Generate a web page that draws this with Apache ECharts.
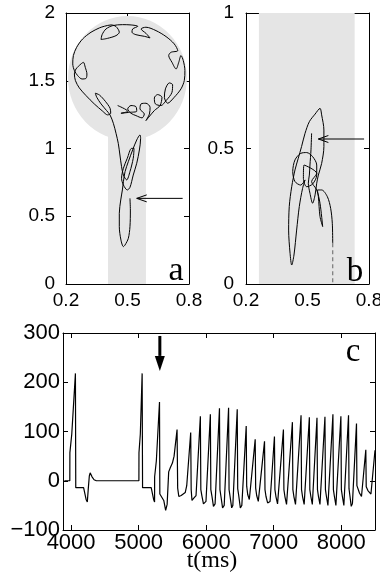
<!DOCTYPE html>
<html>
<head>
<meta charset="utf-8">
<script src="https://cdn.jsdelivr.net/npm/echarts@6/dist/echarts.min.js"></script>
<style>
  html, body { margin: 0; padding: 0; background: #fff; }
  #chart { width: 380px; height: 588px; }
</style>
</head>
<body>
<div id="chart"></div>
<script>
// panel a: phase trajectory, starts at the arrow and ends in the lower curls of the head
const trajA = [
  [0.512,0.632],[0.514,0.546],[0.512,0.423],[0.504,0.337],[0.488,0.288],[0.480,0.276],[0.468,0.325],
  [0.460,0.423],[0.460,0.522],[0.467,0.620],[0.475,0.694],[0.480,0.755],[0.488,0.829],[0.504,0.903],
  [0.525,0.989],[0.545,1.063],[0.561,1.100],[0.564,1.075],[0.558,0.989],[0.545,0.891],[0.528,0.804],
  [0.512,0.713],[0.499,0.694],[0.480,0.731],[0.471,0.780],[0.480,0.854],[0.499,0.928],[0.520,1.001],
  [0.532,1.001],[0.528,0.928],[0.512,0.829],[0.496,0.768],[0.480,0.804],[0.471,0.866],[0.463,0.952],
  [0.455,1.038],[0.444,1.112],[0.431,1.186],[0.415,1.247],
  [0.398,1.280],[0.371,1.329],[0.350,1.378],[0.343,1.408],[0.363,1.395],[0.392,1.348],[0.415,1.297],
  [0.418,1.260],[0.403,1.248],[0.379,1.275],[0.338,1.329],[0.298,1.390],[0.265,1.447],[0.246,1.501],
  [0.241,1.550],[0.249,1.587],[0.273,1.624],[0.285,1.636],[0.294,1.599],[0.302,1.550],[0.298,1.518],
  [0.278,1.513],[0.257,1.538],[0.241,1.575],[0.233,1.624],[0.236,1.686],[0.252,1.747],[0.281,1.808],
  [0.322,1.858],[0.363,1.890],
  [0.387,1.902],[0.420,1.912],[0.444,1.900],[0.460,1.858],[0.444,1.833],[0.403,1.813],[0.371,1.804],
  [0.376,1.840],[0.395,1.882],[0.428,1.907],[0.476,1.914],[0.517,1.912],
  [0.550,1.902],[0.525,1.882],[0.522,1.858],[0.541,1.840],[0.582,1.828],[0.610,1.816],[0.590,1.850],
  [0.566,1.882],[0.590,1.895],[0.639,1.870],[0.688,1.826],[0.728,1.772],
  [0.745,1.722],[0.712,1.710],[0.701,1.686],[0.717,1.636],[0.737,1.587],[0.750,1.636],[0.761,1.686],
  [0.772,1.649],[0.780,1.575],[0.777,1.501],[0.761,1.440],[0.728,1.378],[0.696,1.334],
  [0.680,1.378],[0.685,1.440],[0.704,1.484],[0.720,1.471],[0.717,1.415],[0.688,1.353],[0.663,1.317],
  [0.636,1.329],[0.631,1.373],[0.647,1.398],[0.668,1.378],[0.659,1.317],[0.631,1.280],[0.603,1.230],
  [0.590,1.206],[0.607,1.255],[0.610,1.304],[0.590,1.334],[0.566,1.329],[0.561,1.292],[0.582,1.255],
  [0.571,1.226],[0.541,1.243],[0.517,1.260],[0.501,1.292],[0.517,1.317],[0.541,1.309],[0.545,1.275],
  [0.509,1.267],[0.468,1.260],[0.501,1.275],[0.452,1.317]
];

// panel b: trajectory, then the dashed exit at the bottom
const trajB = [
  [0.520,0.556],[0.517,0.495],[0.512,0.439],[0.509,0.402],[0.504,0.372],[0.512,0.335],[0.525,0.298],
  [0.537,0.329],[0.545,0.372],[0.553,0.402],[0.569,0.445],[0.580,0.507],[0.580,0.568],[0.569,0.624],
  [0.561,0.648],[0.537,0.627],[0.509,0.599],[0.488,0.556],[0.471,0.507],[0.455,0.464],[0.439,0.421],
  [0.423,0.359],[0.411,0.286],[0.408,0.199],[0.415,0.113],[0.423,0.070],[0.434,0.107],[0.447,0.199],
  [0.460,0.286],[0.476,0.353],[0.488,0.384],[0.467,0.365],[0.439,0.378],[0.428,0.415],[0.439,0.458],
  [0.467,0.482],[0.496,0.485],[0.525,0.470],[0.545,0.439],[0.545,0.402],[0.525,0.369],[0.496,0.359],
  [0.480,0.390],[0.483,0.439],[0.545,0.408],[0.520,0.378],[0.545,0.347],[0.561,0.298],[0.574,0.212],
  [0.561,0.249],[0.553,0.322],[0.548,0.347],[0.569,0.347],[0.597,0.322],[0.613,0.279],[0.621,0.224],
  [0.623,0.150]
];
const trajBTail = [[0.623,0.150],[0.623,0.0]];

// panel c: t (ms), membrane trace
const traceC = [
  [3900,0],[3981,0],[3982,57],[4010,95],[4064,218],[4069,-14],[4185,-14],[4200,-18],[4222,-38],
  [4240,-43],[4255,-15],[4270,10],[4282,16],[4310,8],[4340,2],[4374,0],
  [5004,0],[5005,57],[5025,95],[5052,218],[5058,-14],[5186,-14],[5200,-18],[5222,-38],[5236,-43],
  [5237,8],[5262,40],[5309,160],[5314,-27],[5340,-30],[5372,-40],[5400,-60],[5422,-48],[5445,18],
  [5470,27],[5500,36],[5525,50],[5569,104],[5578,-15],[5595,-32],[5630,-30],[5690,-24],[5712,-10],
  [5771,98],[5778,-18],[5790,-40],[5820,-35],[5850,-30],[5914,131],
  [5921,-18],[5936,-30],[5960,-47],[5997,-42],[6062,135],
  [6069,-18],[6084,-30],[6108,-52],[6132,-47],[6197,147],
  [6204,-18],[6219,-32],[6243,-55],[6267,-50],[6332,148],
  [6339,-18],[6354,-32],[6378,-55],[6395,-50],[6460,145],
  [6467,-16],[6482,-30],[6506,-55],[6528,-50],[6593,111],
  [6600,-11],[6615,-28],[6639,-38],[6661,-35],[6726,84],
  [6733,-15],[6748,-30],[6772,-42],[6799,-38],[6864,80],
  [6871,-18],[6886,-32],[6910,-45],[6946,-42],[7011,90],
  [7018,-18],[7033,-32],[7057,-47],[7079,-43],[7144,104],
  [7151,-18],[7166,-32],[7190,-48],[7212,-44],[7277,119],
  [7284,-18],[7299,-32],[7323,-48],[7340,-44],[7405,133],
  [7412,-18],[7427,-32],[7451,-48],[7465,-44],[7528,129],
  [7535,-18],[7550,-32],[7572,-48],[7581,-45],[7641,128],
  [7648,-18],[7663,-32],[7685,-48],[7699,-45],[7759,130],
  [7766,-18],[7781,-32],[7803,-50],[7817,-46],[7877,135],
  [7884,-18],[7899,-32],[7921,-50],[7935,-46],[7995,131],
  [8002,-18],[8017,-32],[8039,-50],[8050,-47],[8108,133],
  [8115,-16],[8128,-30],[8148,-52],[8166,-46],[8226,116],
  [8232,-10],[8250,-14],[8270,-25],[8300,-32],[8364,63],
  [8370,-12],[8395,-20],[8440,-27],[8500,62]
];

// tick values
const ticksABX = [0.2, 0.5, 0.8];
const ticksAY = [0, 0.5, 1, 1.5, 2];
const ticksBY = [0, 0.5, 1];
const ticksCX = [4000, 5000, 6000, 7000, 8000];
const ticksCY = [-100, 0, 100, 200, 300];

// shaded regions (data units): head ellipse [cx, cy, rx, ry], rectangles [x0, y0, x1, y1]
const headA = [[0.5, 1.52, 0.29, 0.458]];
const stemA = [[0.405, 0, 0.59, 1.3]];
const bandB = [[0.263, 0, 0.73, 1]];

// arrows [tailX, tailY, tipX, tipY]
const arrowA = [[0.769, 0.632, 0.545, 0.632]];
const arrowB = [[0.776, 0.535, 0.553, 0.535]];
const arrowC = [[5314, 294, 5314, 223]];

const SHADE = '#e5e5e5';
const chart = echarts.init(document.getElementById('chart'));

function mkAxis(gridIndex, position, min, max, ticks, label) {
  return {
    type: 'value', gridIndex: gridIndex, position: position, min: min, max: max,
    axisLine: { show: true, onZero: false, lineStyle: { color: '#000', width: 1 } },
    axisTick: { show: true, inside: true, length: 5, customValues: ticks, lineStyle: { color: '#000', width: 1 } },
    axisLabel: label
      ? Object.assign({
          show: true, customValues: ticks, color: '#000', fontFamily: 'Liberation Sans',
          formatter: function (v) { return String(v).replace('-', '\u2212'); }
        }, label)
      : { show: false },
    splitLine: { show: false }
  };
}

function ellipseItem(params, api) {
  const c = api.coord([api.value(0), api.value(1)]);
  const s = api.size([api.value(2), api.value(3)]);
  return {
    type: 'circle', shape: { cx: 0, cy: 0, r: 1 },
    x: c[0], y: c[1], scaleX: s[0], scaleY: s[1],
    style: { fill: SHADE }
  };
}

function rectItem(params, api) {
  const p0 = api.coord([api.value(0), api.value(3)]);
  const p1 = api.coord([api.value(2), api.value(1)]);
  return {
    type: 'rect',
    shape: { x: p0[0], y: p0[1], width: p1[0] - p0[0], height: p1[1] - p0[1] },
    style: { fill: SHADE }
  };
}

function arrowItem(filled) {
  return function (params, api) {
    const a = api.coord([api.value(0), api.value(1)]);
    const b = api.coord([api.value(2), api.value(3)]);
    const dx = b[0] - a[0], dy = b[1] - a[1];
    const len = Math.sqrt(dx * dx + dy * dy);
    const ux = dx / len, uy = dy / len;
    const hl = filled ? 15 : 10, hw = filled ? 5 : 3.5;
    const base = [b[0] - ux * hl, b[1] - uy * hl];
    const p1 = [base[0] - uy * hw, base[1] + ux * hw];
    const p2 = [base[0] + uy * hw, base[1] - ux * hw];
    if (filled) {
      return { type: 'group', children: [
        { type: 'line', shape: { x1: a[0], y1: a[1], x2: base[0], y2: base[1] }, style: { stroke: '#000', lineWidth: 3 } },
        { type: 'polygon', shape: { points: [b, p1, p2] }, style: { fill: '#000' } }
      ] };
    }
    return { type: 'group', children: [
      { type: 'line', shape: { x1: a[0], y1: a[1], x2: b[0], y2: b[1] }, style: { stroke: '#000', lineWidth: 1 } },
      { type: 'polyline', shape: { points: [p1, b, p2] }, style: { stroke: '#000', lineWidth: 1, fill: null } }
    ] };
  };
}

const lineBase = { type: 'line', showSymbol: false, symbol: 'none', z: 3, animation: false };
const abLabel = { fontSize: 19 };
const cLabel = { fontSize: 22 };

const option = {
  animation: false,
  grid: [
    { left: 66, top: 13, width: 123, height: 271, outerBoundsMode: 'none' },
    { left: 246, top: 13, width: 123, height: 271, outerBoundsMode: 'none' },
    { left: 63, top: 333, width: 312, height: 197, outerBoundsMode: 'none' }
  ],
  xAxis: [
    mkAxis(0, 'bottom', 0.2, 0.8, ticksABX, Object.assign({ margin: 7 }, abLabel)),
    mkAxis(0, 'top', 0.2, 0.8, ticksABX, null),
    mkAxis(1, 'bottom', 0.2, 0.8, ticksABX, Object.assign({ margin: 7 }, abLabel)),
    mkAxis(1, 'top', 0.2, 0.8, ticksABX, null),
    mkAxis(2, 'bottom', 3880, 8500, ticksCX, Object.assign({ margin: 2 }, cLabel)),
    mkAxis(2, 'top', 3880, 8500, ticksCX, null)
  ],
  yAxis: [
    mkAxis(0, 'left', 0, 2, ticksAY, Object.assign({ margin: 11 }, abLabel)),
    mkAxis(0, 'right', 0, 2, ticksAY, null),
    mkAxis(1, 'left', 0, 1, ticksBY, Object.assign({ margin: 12 }, abLabel)),
    mkAxis(1, 'right', 0, 1, ticksBY, null),
    mkAxis(2, 'left', -100, 300, ticksCY, Object.assign({ margin: 3 }, cLabel)),
    mkAxis(2, 'right', -100, 300, ticksCY, null)
  ],
  series: [
    { type: 'custom', xAxisIndex: 0, yAxisIndex: 0, z: 1, data: headA, renderItem: ellipseItem, silent: true },
    { type: 'custom', xAxisIndex: 0, yAxisIndex: 0, z: 1, data: stemA, renderItem: rectItem, silent: true },
    Object.assign({}, lineBase, { xAxisIndex: 0, yAxisIndex: 0, data: trajA, smooth: 0.3,
      lineStyle: { color: '#000', width: 1 } }),
    { type: 'custom', xAxisIndex: 0, yAxisIndex: 0, z: 4, data: arrowA, renderItem: arrowItem(false), silent: true },

    { type: 'custom', xAxisIndex: 2, yAxisIndex: 2, z: 1, data: bandB, renderItem: rectItem, silent: true },
    Object.assign({}, lineBase, { xAxisIndex: 2, yAxisIndex: 2, data: trajB, smooth: 0.3,
      lineStyle: { color: '#000', width: 1 } }),
    Object.assign({}, lineBase, { xAxisIndex: 2, yAxisIndex: 2, data: trajBTail,
      lineStyle: { color: '#777', width: 1.2, type: [4, 3] } }),
    { type: 'custom', xAxisIndex: 2, yAxisIndex: 2, z: 4, data: arrowB, renderItem: arrowItem(false), silent: true },

    Object.assign({}, lineBase, { xAxisIndex: 4, yAxisIndex: 4, data: traceC,
      lineStyle: { color: '#000', width: 1.2 } }),
    { type: 'custom', xAxisIndex: 4, yAxisIndex: 4, z: 4, data: arrowC, renderItem: arrowItem(true), silent: true }
  ],
  graphic: [
    { type: 'text', z: 100, x: 176, y: 271, style: { text: 'a', font: '34px "Liberation Serif"', fill: '#000', textAlign: 'center', textVerticalAlign: 'middle' } },
    { type: 'text', z: 100, x: 355, y: 272, style: { text: 'b', font: '33px "Liberation Serif"', fill: '#000', textAlign: 'center', textVerticalAlign: 'middle' } },
    { type: 'text', z: 100, x: 353, y: 352, style: { text: 'c', font: '33px "Liberation Serif"', fill: '#000', textAlign: 'center', textVerticalAlign: 'middle' } },
    { type: 'text', z: 100, x: 212, y: 561, style: { text: 't(ms)', font: '24px "Liberation Serif"', fill: '#000', textAlign: 'center', textVerticalAlign: 'middle' } }
  ]
};

chart.setOption(option);
</script>
</body>
</html>
